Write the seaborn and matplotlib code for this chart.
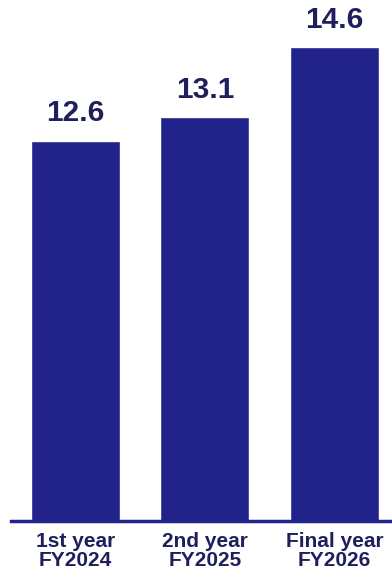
import matplotlib
matplotlib.use("Agg")
import matplotlib.pyplot as plt
import seaborn as sns
import pandas as pd

categories = ["1st year\nFY2024", "2nd year\nFY2025", "Final year\nFY2026"]
values = [12.6, 13.1, 14.6]
value_labels = ["12.6", "13.1", "14.6"]

sns.set_style("white")
plt.rcParams["font.family"] = ["Liberation Sans", "DejaVu Sans"]

bar_color = "#22238A"
text_color = "#1F1F5E"

df = pd.DataFrame({"category": categories, "value": values})

fig = plt.figure(figsize=(3.92, 5.75), dpi=100)
ax = fig.add_axes([0.028, 0.0939, 0.972, 0.9061])
sns.barplot(data=df, x="category", y="value", color=bar_color, saturation=1,
            width=0.687, ax=ax)

ax.set_ylim(4.484, 15.602)
ax.set_xlim(-0.498, 2.444)
for s in ["top", "right", "left"]:
    ax.spines[s].set_visible(False)
ax.spines["bottom"].set_color(bar_color)
ax.spines["bottom"].set_linewidth(2.5)
ax.set_yticks([])
ax.set_xlabel("")
ax.set_ylabel("")
ax.tick_params(axis="x", length=0, pad=8)
for lab in ax.get_xticklabels():
    lab.set_fontweight("bold")
    lab.set_fontsize(15)
    lab.set_color(text_color)
    lab.set_linespacing(1.0)

for i, (v, t) in enumerate(zip(values, value_labels)):
    ax.annotate(t, xy=(i, v), xytext=(0, 9.5), textcoords="offset points",
                ha="center", va="bottom", fontsize=21.5, fontweight="bold",
                color=text_color)

fig.savefig("out.png", dpi=100)
